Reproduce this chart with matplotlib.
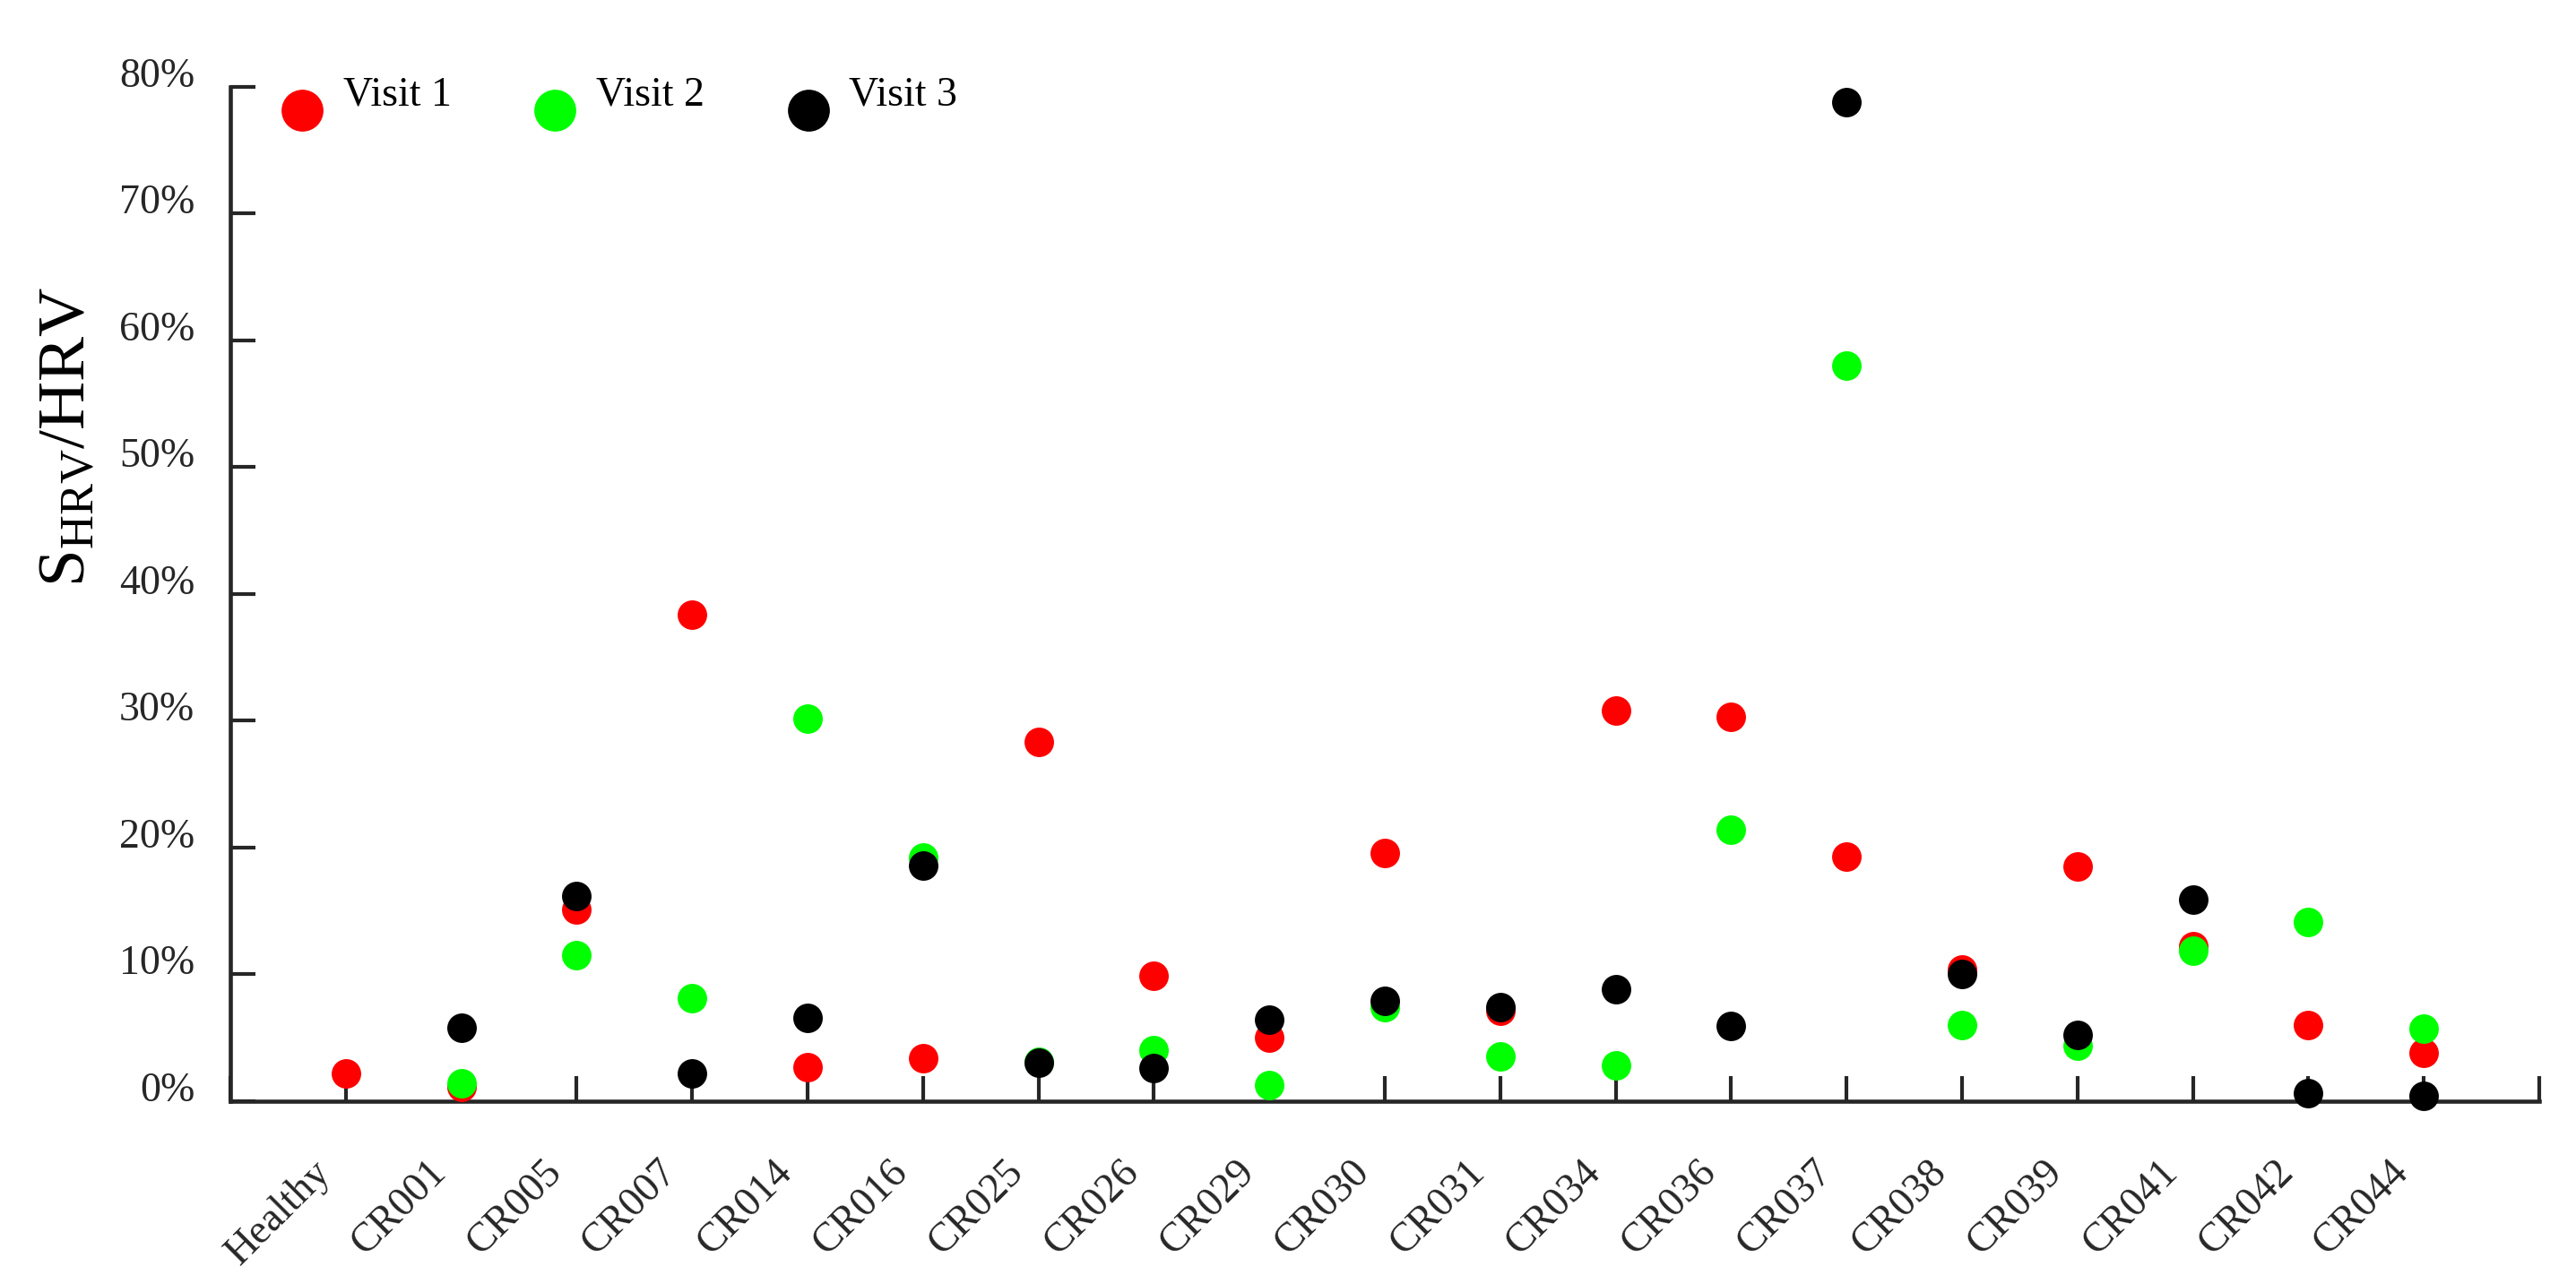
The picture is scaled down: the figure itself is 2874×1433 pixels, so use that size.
import numpy as np
import matplotlib
matplotlib.use("Agg")
import matplotlib.pyplot as plt
from matplotlib.ticker import PercentFormatter, FixedLocator
from matplotlib.transforms import ScaledTranslation

plt.rcParams['font.family'] = ['Liberation Serif', 'DejaVu Serif']
plt.rcParams['mathtext.fontset'] = 'custom'
plt.rcParams['mathtext.rm'] = 'Liberation Serif'

categories = ['Healthy', 'CR001', 'CR005', 'CR007', 'CR014', 'CR016', 'CR025',
              'CR026', 'CR029', 'CR030', 'CR031', 'CR034', 'CR036', 'CR037',
              'CR038', 'CR039', 'CR041', 'CR042', 'CR044']

# S_HRV / HRV in percent, per visit
visit1 = [2.2, 1.1, 15.1, 38.4, 2.7, 3.4, 28.3, 9.9, 5.0, 19.6, 7.1, 30.8,
          30.3, 19.3, 10.4, 18.5, 12.2, 6.0, 3.8]
visit2 = [np.nan, 1.4, 11.5, 8.1, 30.2, 19.2, 3.1, 4.0, 1.3, 7.4, 3.5, 2.8,
          21.4, 58.0, 6.0, 4.4, 11.9, 14.1, 5.7]
visit3 = [np.nan, 5.8, 16.2, 2.2, 6.6, 18.6, 3.0, 2.6, 6.4, 7.9, 7.4, 8.8,
          5.9, 78.8, 10.0, 5.2, 15.9, 0.6, 0.45]

series = [('Visit 1', visit1, '#ff0000'),
          ('Visit 2', visit2, '#00ff00'),
          ('Visit 3', visit3, '#000000')]

axis_col = '#262626'

fig = plt.figure(figsize=(2874 / 300, 1433 / 300), dpi=300)
ax = fig.add_axes([0.0894, 0.1424, 0.8963, 0.79])

x = np.arange(1, len(categories) + 1)
for name, vals, col in series:
    ax.plot(x, vals, 'o', color=col, markersize=7.9, markeredgewidth=0,
            label=name, clip_on=False, zorder=3)

ax.set_xlim(0, len(categories) + 1)
ax.set_ylim(0, 80)

ax.xaxis.set_major_locator(FixedLocator(np.arange(0, len(categories) + 2)))
ax.set_xticklabels([''] + categories + [''], rotation=45, ha='right',
                   fontsize=11, color=axis_col)
ax.set_yticks(np.arange(0, 81, 10))
ax.yaxis.set_major_formatter(PercentFormatter(decimals=0))

for side in ['top', 'right']:
    ax.spines[side].set_visible(False)
for side in ['left', 'bottom']:
    ax.spines[side].set_color(axis_col)
    ax.spines[side].set_linewidth(1.1)

ax.tick_params(axis='both', direction='in', length=6.7, width=1.0,
               color=axis_col, labelcolor=axis_col, labelsize=11)
ax.tick_params(axis='x', pad=14)
ax.tick_params(axis='y', pad=9.5)

shift = ScaledTranslation(-2.0 / 72, 0, fig.dpi_scale_trans)
for lab in ax.get_xticklabels():
    lab.set_transform(lab.get_transform() + shift)
for lab in ax.get_yticklabels():
    lab.set_verticalalignment('baseline')

ax.set_ylabel(r'$\mathrm{S_{HRV}/HRV}$', fontsize=18, color='black')
ax.yaxis.set_label_coords(-0.057, 0.655)

leg = ax.legend(ncol=3, loc='center left', bbox_to_anchor=(0.024, 0.973),
                frameon=False, fontsize=11, markerscale=1.42,
                handlelength=0.8, handletextpad=0.6, columnspacing=2.12,
                borderpad=0, borderaxespad=0)
up = ScaledTranslation(0, 5.2 / 72, fig.dpi_scale_trans)
for t in leg.get_texts():
    t.set_transform(t.get_transform() + up)

fig.savefig('out.png', dpi=300)
